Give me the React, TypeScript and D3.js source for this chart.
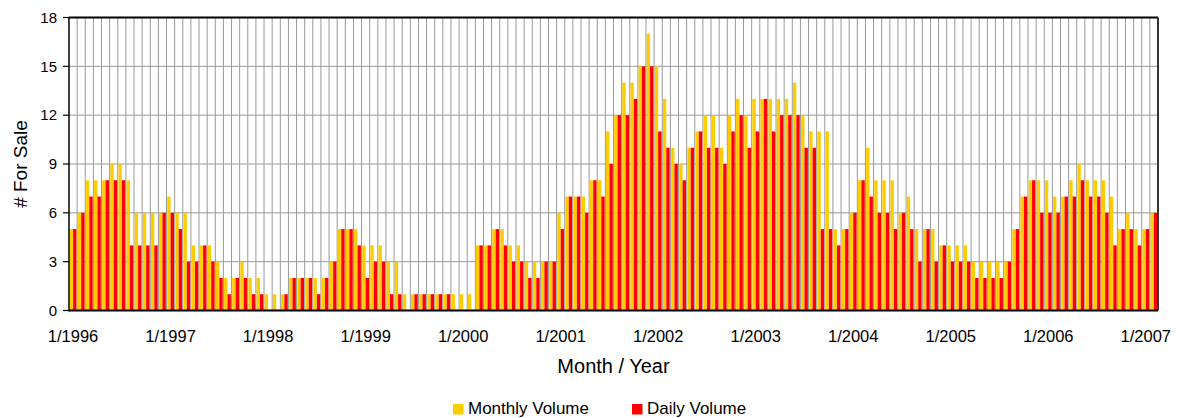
import React from 'react';
import * as d3 from 'd3';

// monthly counts, Jan 1996 .. Feb 2007
const monthly = [
  5, 6, 8, 8, 8, 9, 9, 8, 6, 6, 6, 6,
  7, 6, 6, 4, 4, 4, 3, 2, 2, 3, 2, 2,
  1, 1, 1, 2, 2, 2, 2, 2, 3, 5, 5, 5,
  4, 4, 4, 3, 3, 1, 1, 1, 1, 1, 1, 1,
  1, 1, 4, 4, 5, 5, 4, 4, 3, 3, 3, 3,
  6, 7, 7, 7, 8, 8, 11, 12, 14, 14, 15, 17,
  15, 13, 10, 9, 10, 11, 12, 12, 10, 12, 13, 12,
  13, 13, 13, 13, 13, 14, 12, 11, 11, 11, 5, 5,
  6, 8, 10, 8, 8, 8, 6, 7, 5, 5, 5, 4,
  4, 4, 4, 3, 3, 3, 3, 3, 5, 7, 8, 8,
  8, 7, 7, 8, 9, 8, 8, 8, 7, 5, 6, 5,
  5, 6,
];

const daily = [
  5, 6, 7, 7, 8, 8, 8, 4, 4, 4, 4, 6,
  6, 5, 3, 3, 4, 3, 2, 1, 2, 2, 1, 1,
  0, 0, 1, 2, 2, 2, 1, 2, 3, 5, 5, 4,
  2, 3, 3, 1, 1, 0, 1, 1, 1, 1, 1, 0,
  0, 0, 4, 4, 5, 4, 3, 3, 2, 2, 3, 3,
  5, 7, 7, 6, 8, 7, 9, 12, 12, 13, 15, 15,
  11, 10, 9, 8, 10, 11, 10, 10, 9, 11, 12, 10,
  11, 13, 11, 12, 12, 12, 10, 10, 5, 5, 4, 5,
  6, 8, 7, 6, 6, 5, 6, 5, 3, 5, 3, 4,
  3, 3, 3, 2, 2, 2, 2, 3, 5, 7, 8, 6,
  6, 6, 7, 7, 8, 7, 7, 6, 4, 5, 5, 4,
  5, 6,
];

const yearLabels = ['1/1996', '1/1997', '1/1998', '1/1999', '1/2000', '1/2001',
  '1/2002', '1/2003', '1/2004', '1/2005', '1/2006', '1/2007'];
const yTicks = [0, 3, 6, 9, 12, 15, 18];
const seriesNames = ['Monthly Volume', 'Daily Volume'];
const seriesColors = ['#FFCC00', '#FF0000'];

const font = '"Liberation Sans", Arial, Helvetica, sans-serif';

export default function App() {
  const left = 69, right = 1158, top = 17.5, bottom = 310.5;

  const x = d3.scaleBand<number>()
    .domain(d3.range(monthly.length))
    .range([left, right]);
  const bw = x.bandwidth();
  const xs = d3.scaleBand<string>()
    .domain(seriesNames)
    .range([0, bw])
    .paddingOuter(0.2);
  const y = d3.scaleLinear().domain([0, 18]).range([bottom, top]);

  const series = [monthly, daily];

  return (
    <div style={{ position: 'fixed', left: 0, top: 0 }}>
      <svg width={1181} height={418} style={{ display: 'block', background: '#fff' }} fontFamily={font}>
        {/* vertical grid between months */}
        {d3.range(1, monthly.length).map(i => (
          <line key={'v' + i} x1={x(i)} x2={x(i)} y1={top} y2={bottom} stroke="#999" strokeWidth={1} />
        ))}
        {/* horizontal grid */}
        {yTicks.slice(1, -1).map(t => (
          <line key={'h' + t} x1={left} x2={right} y1={y(t)} y2={y(t)} stroke="#999" strokeWidth={1} />
        ))}

        {/* bars */}
        {series.map((vals, s) => vals.map((v, i) => v > 0 && (
          <rect key={s + '-' + i}
            x={(x(i) as number) + (xs(seriesNames[s]) as number)}
            y={y(v)}
            width={xs.bandwidth()}
            height={bottom - y(v)}
            fill={seriesColors[s]} />
        )))}

        {/* frame */}
        <line x1={left} x2={right} y1={top} y2={top} stroke="#000" strokeWidth={2} />
        <line x1={right} x2={right} y1={top} y2={bottom} stroke="#333" strokeWidth={2} />
        <line x1={left} x2={left} y1={top} y2={bottom + 1} stroke="#000" strokeWidth={1.5} />
        <line x1={left} x2={right} y1={bottom} y2={bottom} stroke="#000" strokeWidth={2} />

        {/* y axis */}
        {yTicks.map(t => (
          <g key={'yt' + t}>
            <line x1={left - 6} x2={left} y1={y(t)} y2={y(t)} stroke="#000" strokeWidth={1.2} />
            <text x={57} y={y(t)} dy="0.35em" textAnchor="end" fontSize={15}>{t}</text>
          </g>
        ))}
        <text transform={`translate(27,${(top + bottom) / 2}) rotate(-90)`} textAnchor="middle" fontSize={19}># For Sale</text>

        {/* x axis */}
        {yearLabels.map((lab, k) => (
          <text key={lab} x={(x(k * 12) as number) + bw / 2} y={342} textAnchor="middle" fontSize={16.5}>{lab}</text>
        ))}
        <text x={(left + right) / 2} y={373} textAnchor="middle" fontSize={20}>Month / Year</text>

        {/* legend */}
        <rect x={453} y={404} width={10.5} height={10.5} fill={seriesColors[0]} />
        <text x={468} y={414} fontSize={17}>{seriesNames[0]}</text>
        <rect x={632} y={404} width={10.5} height={10.5} fill={seriesColors[1]} />
        <text x={647} y={414} fontSize={17}>{seriesNames[1]}</text>
      </svg>
    </div>
  );
}
